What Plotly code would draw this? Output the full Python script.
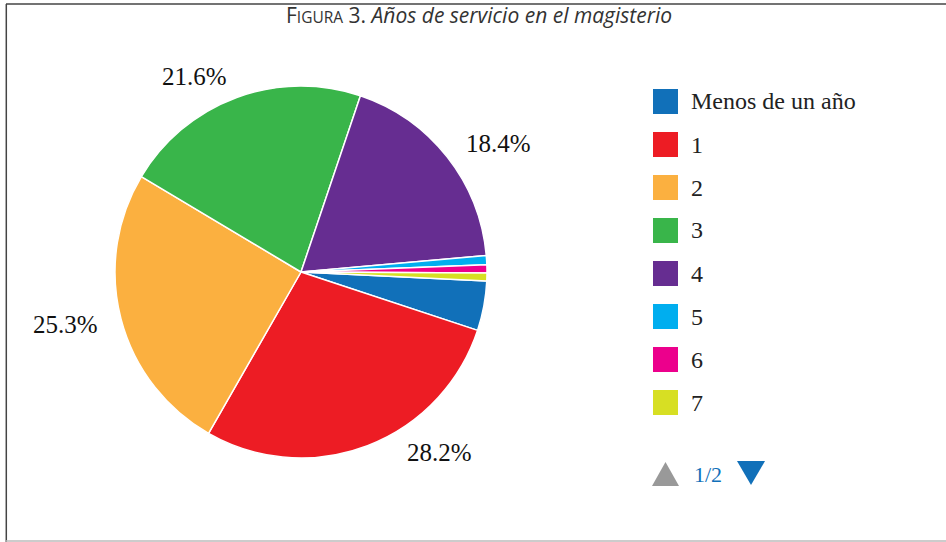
import math
import plotly.graph_objects as go

# ---------------- data ----------------
categories = ["Menos de un año", "1", "2", "3", "4", "5", "6", "7"]
values = [4.3, 28.2, 25.3, 21.6, 18.4, 0.8, 0.7, 0.7]
colors = ["#1170B9", "#ED1C24", "#FBB040", "#39B54A", "#662D91",
          "#00AEEF", "#EC008C", "#D7DF23"]
page_text = "1/2"

# ---------------- layout constants (pixels) ----------------
W, H = 946, 542
CX, CY, R = 301, 272, 186          # pie centre / radius
ROT = 92.8                         # start angle (deg clockwise from 12 o'clock)
LABEL_R = 208                      # label anchor radius
LABEL_Y_MIN, LABEL_Y_MAX = 60, 452
SERIF = "Liberation Serif, Times New Roman, serif"
SANS = "Open Sans, Noto Sans, sans-serif"


def px(x):
    return x / W


def py(y):
    return 1 - y / H


fig = go.Figure(go.Pie(
    labels=categories,
    values=values,
    marker=dict(colors=colors, line=dict(color="white", width=1.5)),
    sort=False,
    direction="clockwise",
    rotation=ROT,
    textinfo="none",
    hoverinfo="label+percent",
    showlegend=False,
    domain=dict(x=[px(CX - R), px(CX + R)], y=[py(CY + R), py(CY - R)]),
))

annotations = []
shapes = []

# ---- percentage labels for the large slices (computed from data) ----
total = sum(values)
cum = 0.0
for v in values:
    mid = ROT + 360.0 * (cum + v / 2.0) / total
    cum += v
    if v < 10:
        continue
    a = math.radians(mid)
    y = CY - LABEL_R * math.cos(a)
    y = min(max(y, LABEL_Y_MIN), LABEL_Y_MAX)
    dx = math.sqrt(max(LABEL_R ** 2 - (y - CY) ** 2, 0))
    right = math.sin(a) > 0
    x = CX + dx if right else CX - dx
    annotations.append(dict(
        x=px(x), y=py(y), xref="paper", yref="paper",
        text=f"{v:.1f}%", showarrow=False,
        xanchor="left" if right else "right", yanchor="middle",
        font=dict(family=SERIF, size=25, color="#111111"),
    ))

# ---- custom legend (first page) ----
LEG_X, LEG_Y0, LEG_DY, SQ = 653, 101.5, 43, 25
for i, (lab, col) in enumerate(zip(categories, colors)):
    yc = LEG_Y0 + LEG_DY * i
    shapes.append(dict(
        type="rect", xref="paper", yref="paper",
        x0=px(LEG_X), x1=px(LEG_X + SQ), y0=py(yc + SQ / 2), y1=py(yc - SQ / 2),
        fillcolor=col, line=dict(width=0),
    ))
    annotations.append(dict(
        x=px(LEG_X + SQ + 11), y=py(yc), xref="paper", yref="paper",
        text=lab, showarrow=False, xanchor="left", yanchor="middle",
        font=dict(family=SERIF, size=24, color="#222222"),
    ))

# ---- legend pager ----
NAV_Y = 474
up = (f"M {px(652)},{py(486)} L {px(679)},{py(486)} L {px(665.5)},{py(462)} Z")
down = (f"M {px(737)},{py(461)} L {px(765)},{py(461)} L {px(751)},{py(485)} Z")
shapes.append(dict(type="path", xref="paper", yref="paper", path=up,
                   fillcolor="#999999", line=dict(width=0)))
shapes.append(dict(type="path", xref="paper", yref="paper", path=down,
                   fillcolor="#1170B9", line=dict(width=0)))
annotations.append(dict(
    x=px(707.5), y=py(NAV_Y), xref="paper", yref="paper", text=page_text,
    showarrow=False, xanchor="center", yanchor="middle",
    font=dict(family=SERIF, size=22, color="#1170B9"),
))

# ---- title ----
annotations.append(dict(
    x=px(478.5), y=py(15), xref="paper", yref="paper",
    text="F<span style='font-size:15.5px'>IGURA</span> 3. <i>Años de servicio en el magisterio</i>",
    showarrow=False, xanchor="center", yanchor="middle",
    font=dict(family=SANS, size=21, color="#333333"),
))

# ---- frame lines ----
shapes.append(dict(type="line", xref="paper", yref="paper",
                   x0=px(6), x1=1, y0=py(4), y1=py(4),
                   line=dict(color="#444444", width=1.5)))
shapes.append(dict(type="line", xref="paper", yref="paper",
                   x0=px(6.3), x1=px(6.3), y0=py(4), y1=0,
                   line=dict(color="#444444", width=1.5)))
shapes.append(dict(type="line", xref="paper", yref="paper",
                   x0=px(6), x1=1, y0=py(541), y1=py(541),
                   line=dict(color="#BBBBBB", width=1.5)))

fig.update_layout(
    width=W, height=H,
    margin=dict(l=0, r=0, t=0, b=0),
    paper_bgcolor="white", plot_bgcolor="white",
    annotations=annotations, shapes=shapes,
)

fig.write_html(
    "out.html",
    config={"displayModeBar": False},
    post_script="document.body.style.margin='0';document.body.style.overflow='hidden';",
)
